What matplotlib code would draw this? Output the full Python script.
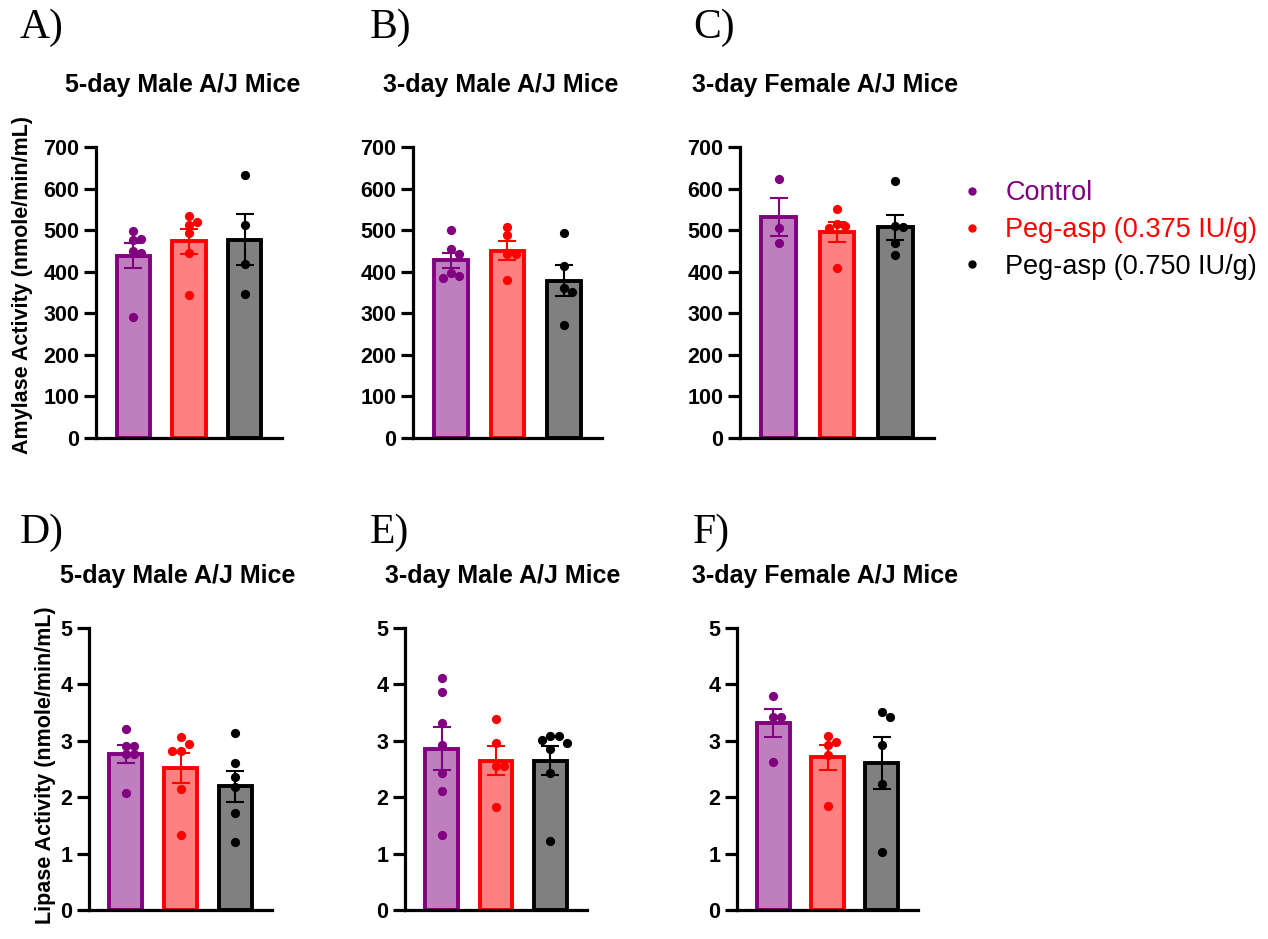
import numpy as np
import matplotlib
matplotlib.use("Agg")
import matplotlib.pyplot as plt
from matplotlib.lines import Line2D

plt.rcParams['font.family'] = ['Liberation Sans', 'DejaVu Sans']

# ---------------- data ----------------
groups = ["Control", "Peg-asp (0.375 IU/g)", "Peg-asp (0.750 IU/g)"]

titles = ["5-day Male A/J Mice", "3-day Male A/J Mice", "3-day Female A/J Mice",
          "5-day Male A/J Mice", "3-day Male A/J Mice", "3-day Female A/J Mice"]
letters = ["A)", "B)", "C)", "D)", "E)", "F)"]

amy_ylabel = "Amylase Activity (nmole/min/mL)"
lip_ylabel = "Lipase Activity (nmole/min/mL)"
amy_ticks = [0, 100, 200, 300, 400, 500, 600, 700]
lip_ticks = [0, 1, 2, 3, 4, 5]

# Amylase, 5-day male
amyA_ctrl = [497, 479, 476, 451, 446, 291]
amyA_lo = [534, 519, 512, 492, 446, 343]
amyA_hi = [632, 513, 418, 347]
amyA_mean = [439, 473, 477]
amyA_sem = [29, 30, 62]

# Amylase, 3-day male
amyB_ctrl = [501, 455, 442, 398, 389, 385]
amyB_lo = [507, 488, 443, 443, 381]
amyB_hi = [493, 414, 360, 350, 271]
amyB_mean = [427, 451, 378]
amyB_sem = [19, 22, 37]

# Amylase, 3-day female
amyC_ctrl = [622, 506, 470]
amyC_lo = [550, 514, 510, 504, 408]
amyC_hi = [619, 510, 508, 470, 441]
amyC_mean = [531, 496, 507]
amyC_sem = [46, 24, 30]

# Lipase, 5-day male
lipD_ctrl = [3.21, 2.91, 2.91, 2.77, 2.77, 2.07]
lipD_lo = [3.06, 2.95, 2.82, 2.82, 2.15, 1.33]
lipD_hi = [3.14, 2.60, 2.35, 2.18, 1.72, 1.20]
lipD_mean = [2.76, 2.52, 2.19]
lipD_sem = [0.16, 0.27, 0.28]

# Lipase, 3-day male
lipE_ctrl = [4.12, 3.86, 3.31, 2.92, 2.43, 2.11, 1.33]
lipE_lo = [3.39, 2.96, 2.56, 2.56, 1.82]
lipE_hi = [3.09, 3.09, 3.02, 2.96, 2.86, 2.43, 1.22]
lipE_mean = [2.86, 2.65, 2.65]
lipE_sem = [0.38, 0.26, 0.25]

# Lipase, 3-day female
lipF_ctrl = [3.80, 3.42, 3.42, 2.62]
lipF_lo = [3.09, 2.97, 2.93, 2.74, 1.85]
lipF_hi = [3.51, 3.43, 2.92, 2.23, 1.02]
lipF_mean = [3.31, 2.71, 2.61]
lipF_sem = [0.25, 0.22, 0.46]

panels = [
    (amyA_mean, amyA_sem, [amyA_ctrl, amyA_lo, amyA_hi]),
    (amyB_mean, amyB_sem, [amyB_ctrl, amyB_lo, amyB_hi]),
    (amyC_mean, amyC_sem, [amyC_ctrl, amyC_lo, amyC_hi]),
    (lipD_mean, lipD_sem, [lipD_ctrl, lipD_lo, lipD_hi]),
    (lipE_mean, lipE_sem, [lipE_ctrl, lipE_lo, lipE_hi]),
    (lipF_mean, lipF_sem, [lipF_ctrl, lipF_lo, lipF_hi]),
]

# ---------------- style ----------------
edge_colors = ["#800080", "#FF0000", "#000000"]
fill_colors = ["#BF7FBF", "#FF8080", "#808080"]
point_colors = ["#800080", "#FF0000", "#000000"]

W, H = 1268, 939
fig = plt.figure(figsize=(W / 100, H / 100), dpi=100)

# axes boxes in pixels: left, top, right, bottom
boxes = [
    (96, 147, 282, 438),
    (413, 147, 602, 438),
    (740, 147, 934, 438),
    (89, 628, 272, 910),
    (405, 628, 587, 910),
    (737, 628, 918, 910),
]
title_pos = [(65, 92), (383, 92), (692, 92), (60, 583), (385, 583), (692, 583)]
letter_pos = [(20, 38), (370, 38), (693, 38), (20, 543), (370, 543), (693, 543)]

XLIM = (-0.67, 2.67)
BAR_W = 0.6
DOT_PX = 8.5


def swarm_offsets(vals, px_per_x, px_per_y):
    order = np.argsort(vals)[::-1]
    placed = []
    offs = np.zeros(len(vals))
    step = DOT_PX * 0.95
    cands = [0]
    for k in range(1, 8):
        cands += [k, -k]
    for i in order:
        yp = vals[i] * px_per_y
        for c in cands:
            xp = c * step
            ok = all(np.hypot(xp - px, yp - py) >= DOT_PX * 0.9 for px, py in placed)
            if ok:
                placed.append((xp, yp))
                offs[i] = xp / px_per_x
                break
    return offs


for idx, (means, sems, pts) in enumerate(panels):
    l, t, r, b = boxes[idx]
    ax = fig.add_axes([l / W, (H - b) / H, (r - l) / W, (b - t) / H])
    top_row = idx < 3
    ymax = 700 if top_row else 5
    ticks = amy_ticks if top_row else lip_ticks
    ax.set_xlim(*XLIM)
    ax.set_ylim(0, ymax)
    px_per_x = (r - l) / (XLIM[1] - XLIM[0])
    px_per_y = (b - t) / ymax
    x = np.arange(3)
    ax.bar(x, means, width=BAR_W, color=fill_colors, edgecolor=edge_colors,
           linewidth=2.8, zorder=2)
    for i in range(3):
        ax.errorbar(x[i], means[i], yerr=sems[i], color=edge_colors[i],
                    capsize=6.2, capthick=1.5, elinewidth=1.5, zorder=3, fmt='none')
        vals = np.array(pts[i], dtype=float)
        offs = swarm_offsets(vals, px_per_x, px_per_y)
        ax.scatter(x[i] + offs, vals, s=44, color=point_colors[i], zorder=4,
                   linewidths=0)
    for s in ["top", "right"]:
        ax.spines[s].set_visible(False)
    for s in ["left", "bottom"]:
        ax.spines[s].set_linewidth(2.3)
    ax.set_xticks([])
    ax.set_yticks(ticks)
    ax.tick_params(axis='y', length=9, width=2.3, pad=3.0, labelsize=15.5)
    for lab in ax.get_yticklabels():
        lab.set_fontweight('bold')
    ax.patch.set_alpha(0)

    tx, ty = title_pos[idx]
    fig.text(tx / W, (H - ty) / H, titles[idx], fontsize=18, fontweight='bold',
             ha='left', va='baseline')
    lx, ly = letter_pos[idx]
    fig.text(lx / W, (H - ly) / H, letters[idx], fontsize=30,
             family=['Liberation Serif', 'DejaVu Serif'], ha='left', va='baseline')

fig.text(23 / W, (H - 285) / H, amy_ylabel, rotation=90, fontsize=15.5,
         fontweight='bold', ha='center', va='center')
fig.text(46 / W, (H - 765) / H, lip_ylabel, rotation=90, fontsize=15.5,
         fontweight='bold', ha='center', va='center')

# legend
handles = [Line2D([0], [0], marker='o', linestyle='none', markersize=5,
                  markerfacecolor=c, markeredgecolor=c) for c in point_colors]
leg = fig.legend(handles, groups, loc='center left',
                 bbox_to_anchor=(958 / W, (H - 230) / H), frameon=False,
                 fontsize=19.5, handlelength=1.0, handletextpad=0.75,
                 labelspacing=0.4, borderaxespad=0, borderpad=0)
for txt, c in zip(leg.get_texts(), point_colors):
    txt.set_color(c)

fig.savefig("out.png", dpi=100)
